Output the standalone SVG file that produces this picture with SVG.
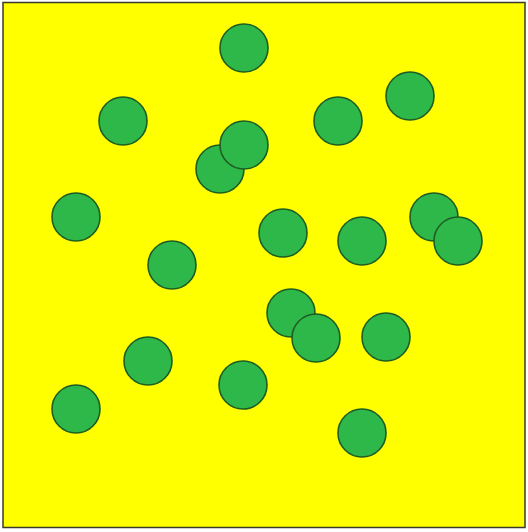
<svg xmlns="http://www.w3.org/2000/svg" width="528" height="532" viewBox="0 0 528 532">
<style>
.dot{fill:#2fb84a;stroke:#1d5e22;stroke-width:1.6}
</style>
<rect x="0" y="0" width="528" height="532" fill="#ffffff"/>
<rect id="field" x="3" y="2.5" width="522" height="525" fill="#ffff00" stroke="#3a3a2a" stroke-width="1.5"/>
<g id="dots">
<circle class="dot" cx="244" cy="48" r="24"/>
<circle class="dot" cx="123" cy="121" r="24"/>
<circle class="dot" cx="338" cy="121" r="24"/>
<circle class="dot" cx="410" cy="96" r="24"/>
<circle class="dot" cx="220" cy="169" r="24"/>
<circle class="dot" cx="244" cy="145" r="24"/>
<circle class="dot" cx="76" cy="217" r="24"/>
<circle class="dot" cx="283" cy="233" r="24"/>
<circle class="dot" cx="362" cy="241" r="24"/>
<circle class="dot" cx="434" cy="217" r="24"/>
<circle class="dot" cx="458" cy="241" r="24"/>
<circle class="dot" cx="172" cy="265" r="24"/>
<circle class="dot" cx="291" cy="313" r="24"/>
<circle class="dot" cx="316" cy="338" r="24"/>
<circle class="dot" cx="386" cy="337" r="24"/>
<circle class="dot" cx="148" cy="361" r="24"/>
<circle class="dot" cx="243" cy="385" r="24"/>
<circle class="dot" cx="76" cy="409" r="24"/>
<circle class="dot" cx="362" cy="433" r="24"/>
</g>
</svg>
